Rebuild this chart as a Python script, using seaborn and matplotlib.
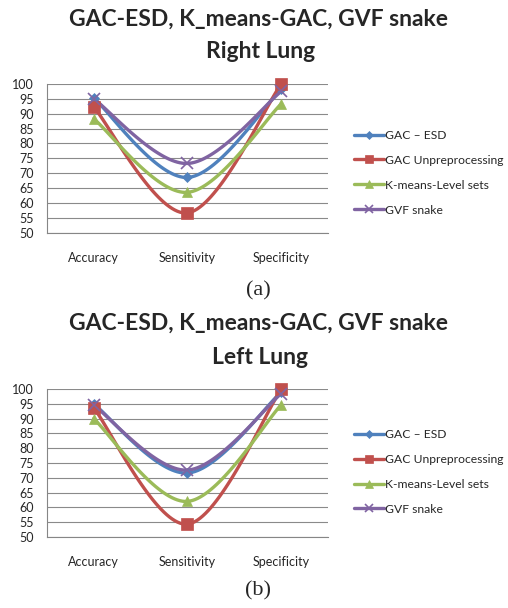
import numpy as np
import pandas as pd
import matplotlib
matplotlib.use("Agg")
import matplotlib.pyplot as plt
import seaborn as sns
from matplotlib.lines import Line2D

# ---- data ----
categories = ["Accuracy", "Sensitivity", "Specificity"]
methods = ["GAC \u2013 ESD", "GAC Unpreprocessing", "K-means-Level sets", "GVF snake"]

right_gac_esd = [95.3, 68.6, 98.3]
right_gac_unpre = [92.3, 56.7, 100.0]
right_kmeans = [88.3, 63.6, 93.3]
right_gvf = [95.0, 73.3, 97.5]

left_gac_esd = [95.0, 71.6, 99.0]
left_gac_unpre = [93.7, 54.3, 100.0]
left_kmeans = [90.0, 62.0, 94.7]
left_gvf = [94.6, 72.6, 98.5]

title_line1 = "GAC-ESD, K_means-GAC, GVF snake"
title_line2 = ["Right Lung", "Left Lung"]
captions = ["(a)", "(b)"]
y_ticks = list(range(50, 101, 5))

colors = ["#4F81BD", "#C0504D", "#9BBB59", "#8064A2"]
markers = ["D", "s", "^", "x"]
msizes = [5.5, 8.5, 7.5, 8]


def smooth(xs, ys, n=40):
    # Excel style smoothed line (Catmull-Rom as cubic Bezier)
    P = np.column_stack([xs, ys]).astype(float)
    P = np.vstack([P[0], P, P[-1]])
    out = []
    t = np.linspace(0, 1, n)[:, None]
    for i in range(1, len(P) - 2):
        p0, p1 = P[i], P[i + 1]
        c1 = p0 + (P[i + 1] - P[i - 1]) / 6
        c2 = p1 - (P[i + 2] - P[i]) / 6
        seg = ((1 - t) ** 3) * p0 + 3 * ((1 - t) ** 2) * t * c1 + 3 * (1 - t) * t ** 2 * c2 + t ** 3 * p1
        out.append(seg if i == 1 else seg[1:])
    return np.vstack(out)


sns.set_style("white")
plt.rcParams["font.family"] = ["Lato", "DejaVu Sans"]

fig = plt.figure(figsize=(5.08, 6.08), dpi=100)
H = 608.0

panels = [
    [right_gac_esd, right_gac_unpre, right_kmeans, right_gvf],
    [left_gac_esd, left_gac_unpre, left_kmeans, left_gvf],
]
axes_rects = [[0.092, 0.617, 0.554, 0.245], [0.092, 0.117, 0.554, 0.243]]
title_px = [(19, 51), (323, 357)]
caption_px = [291, 591]
legend_y = [0.716, 0.224]

for k, series in enumerate(panels):
    ax = fig.add_axes(axes_rects[k])
    xs = np.arange(len(categories))

    rows = []
    for name, vals in zip(methods, series):
        curve = smooth(xs, vals)
        for j, (cx, cy) in enumerate(curve):
            rows.append({"method": name, "order": j, "x": cx, "y": cy})
    smooth_df = pd.DataFrame(rows)
    sns.lineplot(data=smooth_df, x="x", y="y", hue="method", palette=colors,
                 hue_order=methods, sort=False, estimator=None, units="method",
                 lw=2.4, legend=False, ax=ax)
    for ln in ax.get_lines():
        ln.set_clip_on(False)

    pts = pd.DataFrame({
        "method": np.repeat(methods, len(categories)),
        "x": np.tile(xs, len(methods)),
        "y": np.concatenate(series),
    })
    for name, c, m, s in zip(methods, colors, markers, msizes):
        sub = pts[pts["method"] == name]
        ax.plot(sub["x"], sub["y"], ls="none", marker=m, ms=s, color=c,
                mec=c, mew=1.2 if m == "x" else 0.5, zorder=5, clip_on=False)

    ax.set_xlim(-0.5, 2.5)
    ax.set_ylim(50, 100)
    ax.set_yticks(y_ticks)
    ax.set_yticklabels([str(v) for v in y_ticks], fontsize=9)
    ax.set_xticks([-0.5, 0.5, 1.5, 2.5])
    ax.set_xticklabels([])
    ax.set_xticks(xs, minor=True)
    ax.set_xticklabels(categories, minor=True, fontsize=9)
    ax.tick_params(axis="x", which="minor", length=0, pad=14)
    ax.tick_params(axis="x", which="major", length=4.5, color="#868686", width=0.8, direction="out")
    ax.tick_params(axis="y", length=4.5, color="#868686", width=0.8, pad=5, direction="out")
    ax.grid(axis="y", color="#8a8a8a", lw=0.8)
    ax.grid(axis="x", visible=False)
    ax.set_xlabel("")
    ax.set_ylabel("")
    for sp in ["top", "right"]:
        ax.spines[sp].set_visible(False)
    for sp in ["bottom", "left"]:
        ax.spines[sp].set_color("#868686")
        ax.spines[sp].set_linewidth(0.8)

    handles = [Line2D([], [], color=c, lw=2.4, marker=m, ms=s * 0.75, mec=c,
                      mew=1.2 if m == "x" else 0.5)
               for c, m, s in zip(colors, markers, msizes)]
    fig.legend(handles, methods, loc="center left", bbox_to_anchor=(0.676, legend_y[k]),
               frameon=False, fontsize=8.7, handlelength=2.5, handletextpad=0.05,
               labelspacing=1.15)

    fig.text(0.508, 1 - title_px[k][0] / H, title_line1, ha="center", va="center",
             fontsize=16.5, fontweight="bold")
    fig.text(0.512, 1 - title_px[k][1] / H, title_line2[k], ha="center", va="center",
             fontsize=16.5, fontweight="bold")
    fig.text(0.508, 1 - caption_px[k] / H, captions[k], ha="center", va="center",
             fontsize=16, family="Liberation Serif")

fig.savefig("out.png", dpi=100)
